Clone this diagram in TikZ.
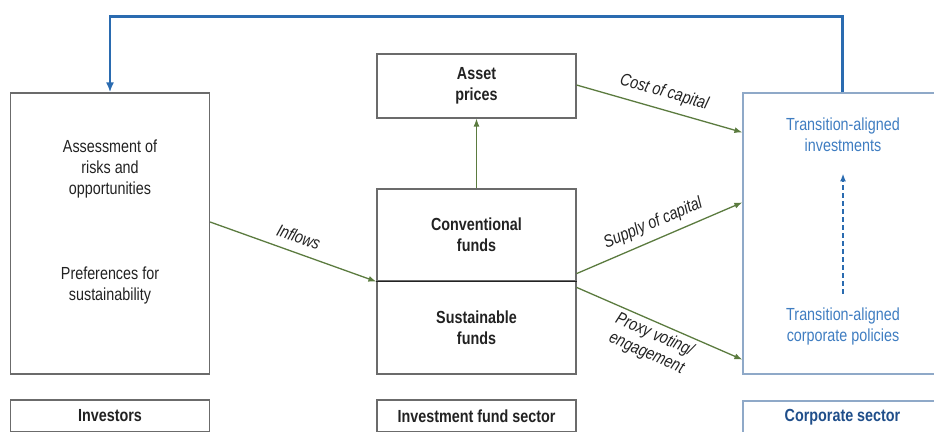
\documentclass[tikz,border=0pt]{standalone}
\usepackage{fontspec}
\setmainfont[FakeStretch=0.82]{Liberation Sans}
\usetikzlibrary{arrows.meta,positioning}
\definecolor{frame}{HTML}{6B6B6B}
\definecolor{ink}{HTML}{222222}
\definecolor{flow}{HTML}{5B7B3F}
\definecolor{loopblue}{HTML}{2A6BB0}
\definecolor{corpframe}{HTML}{8FA9C8}
\definecolor{corptext}{HTML}{3F7DC1}
\definecolor{corphead}{HTML}{1F4E8A}

\begin{document}
\begin{tikzpicture}[x=1pt, y=-1pt,
  body/.style={font=\fontsize{17.5}{21}\selectfont, text=ink, align=center},
  head/.style={font=\fontsize{17.5}{21}\selectfont\bfseries, text=ink, align=center},
  flowlab/.style={font=\fontsize{17.5}{20}\selectfont\itshape, text=ink, align=center, inner sep=1pt},
  panel/.style={draw=frame, line width=1.2pt, minimum width=199pt, inner sep=0pt},
  corppanel/.style={draw=corpframe, line width=1.2pt, minimum width=199pt, inner sep=0pt},
  flowarrow/.style={-{Latex[length=8pt, width=6pt]}, flow, line width=1.3pt}]
  \useasboundingbox (0,0) rectangle (934,431);
  \clip (0,0) rectangle (934,431);

  % investors
  \node[panel, minimum height=281pt] (inv) at (110,233.5) {};
  \node[body] (risk) at (110,169) {Assessment of\\risks and\\opportunities};
  \node[body] (pref) at (110,285) {Preferences for\\sustainability};
  \node[panel, head, minimum height=32pt] (invlab) at (110,416) {Investors};

  % investment funds
  \node[panel, head, minimum height=64pt] (asset) at (476.5,86) {Asset\\prices};
  \node[panel, head, minimum height=92pt] (conv) at (476.5,235) {Conventional\\funds};
  \node[panel, head, minimum height=93pt] (sust) at (476.5,327.5) {Sustainable\\funds};
  \draw[ink, line width=1.5pt] (conv.south west) -- (conv.south east);
  \node[panel, head, minimum height=32pt] (fundlab) at (476.5,416) {Investment fund sector};

  % corporates
  \node[corppanel, minimum height=281pt] (corp) at (842.5,233.5) {};
  \node[body, text=corptext] (tinv) at (843,135) {Transition-aligned\\investments};
  \node[body, text=corptext] (tpol) at (843,326) {Transition-aligned\\corporate policies};
  \node[corppanel, head, text=corphead, minimum height=32pt] (corplab) at (842.5,417) {Corporate sector};

  \draw[-{Latex[length=8pt, width=6pt]}, loopblue, line width=2pt,
        dash pattern=on 5pt off 3pt, shorten <=10pt, shorten >=18pt] (tpol.north) -- (tinv.south);

  % flows
  \draw[flowarrow] ([yshift=11.5pt]inv.east) -- (conv.south west)
    node[midway, above=8pt, sloped, flowlab] {Inflows};
  \draw[flowarrow] (conv.north) -- (asset.south);
  \draw[flowarrow] ([yshift=1pt]asset.east) -- ([yshift=-40pt]corp.north west)
    node[midway, above=7pt, sloped, flowlab] {Cost of capital};
  \draw[flowarrow] ([yshift=8pt]conv.south east) -- ([yshift=-110pt]corp.north west)
    node[midway, above=6pt, sloped, flowlab] {Supply of capital};
  \draw[flowarrow] ([yshift=-7pt]sust.north east) -- ([yshift=15pt]corp.south west)
    node[midway, below=3pt, sloped, flowlab] {Proxy voting/\\engagement};

  % feedback to investors
  \draw[-{Latex[length=10pt, width=8pt]}, loopblue, line width=2.5pt]
    (corp.north) -- ++(0,-76) -| (inv.north);
\end{tikzpicture}
\end{document}
